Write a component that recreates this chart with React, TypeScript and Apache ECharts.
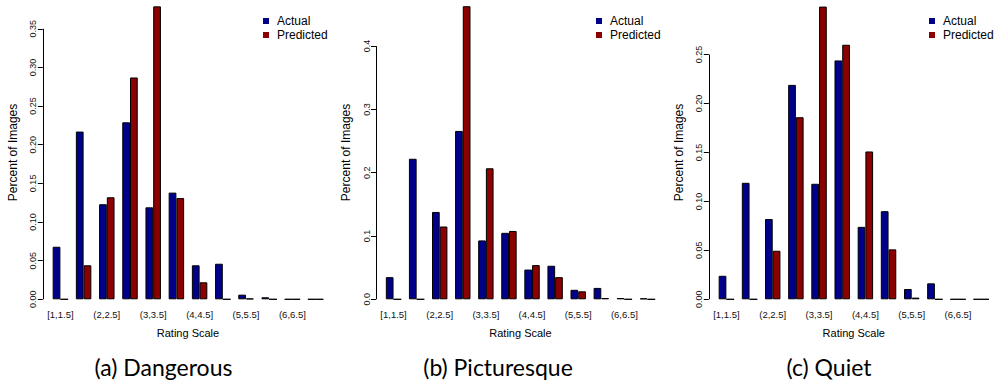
import React, { useEffect, useRef } from "react";
import * as echarts from "echarts";

const categories = ["[1,1.5]", "(1.5,2]", "(2,2.5]", "(2.5,3]", "(3,3.5]", "(3.5,4]", "(4,4.5]", "(4.5,5]", "(5,5.5]", "(5.5,6]", "(6,6.5]", "(6.5,7]"];

const dangerousActual = [0.068, 0.217, 0.123, 0.229, 0.119, 0.138, 0.044, 0.046, 0.006, 0.0026, 0, 0];
const dangerousPredicted = [0, 0.044, 0.132, 0.287, 0.379, 0.131, 0.022, 0, 0.001, 0, 0, 0];
const picturesqueActual = [0.035, 0.222, 0.138, 0.266, 0.093, 0.105, 0.047, 0.053, 0.015, 0.018, 0.002, 0.0015];
const picturesquePredicted = [0, 0, 0.115, 0.463, 0.207, 0.108, 0.054, 0.035, 0.0126, 0.002, 0, 0];
const quietActual = [0.024, 0.119, 0.082, 0.219, 0.118, 0.244, 0.074, 0.09, 0.0105, 0.0163, 0, 0];
const quietPredicted = [0, 0, 0.0496, 0.186, 0.299, 0.26, 0.151, 0.051, 0.0017, 0, 0, 0];

const dangerousTicks = [0, 0.05, 0.1, 0.15, 0.2, 0.25, 0.3, 0.35];
const picturesqueTicks = [0, 0.1, 0.2, 0.3, 0.4];
const quietTicks = [0, 0.05, 0.1, 0.15, 0.2, 0.25];

const seriesNames = ["Actual", "Predicted"];
const captions = ["(a) Dangerous", "(b) Picturesque", "(c) Quiet"];

const ACTUAL_COLOR = "#00008B";
const PREDICTED_COLOR = "#8B0000";
const FONT = "'Liberation Sans', Arial, Helvetica, sans-serif";
const AXIS_OFFSET = 6;
const GRID_TOP = 5.6;
const GRID_HEIGHT = 293.7;

const panels = [
  { left: 48.8, width: 278.4, max: 0.38, ticks: dangerousTicks, digits: 2, actual: dangerousActual, predicted: dangerousPredicted, legendLeft: 263, captionX: 163.5 },
  { left: 382, width: 277, max: 0.464, ticks: picturesqueTicks, digits: 1, actual: picturesqueActual, predicted: picturesquePredicted, legendLeft: 596, captionX: 498 },
  { left: 714.8, width: 278, max: 0.3, ticks: quietTicks, digits: 2, actual: quietActual, predicted: quietPredicted, legendLeft: 929, captionX: 829 },
];

export default function App() {
  const ref = useRef<HTMLDivElement>(null);

  useEffect(() => {
    if (!ref.current) return;
    const chart = echarts.init(ref.current, null, { renderer: "svg" });

    const option: any = {
      animation: false,
      textStyle: { fontFamily: FONT },
      grid: panels.map((p) => ({
        left: p.left,
        top: GRID_TOP,
        width: p.width,
        height: GRID_HEIGHT,
        containLabel: false,
        outerBoundsMode: "none",
      })),
      legend: panels.map((p) => ({
        data: seriesNames,
        orient: "vertical",
        left: p.legendLeft,
        top: 15,
        padding: 0,
        itemWidth: 6,
        itemHeight: 6,
        itemGap: 2,
        icon: "rect",
        selectedMode: false,
        itemStyle: { borderWidth: 0 },
        textStyle: { fontSize: 12, color: "#000", fontFamily: FONT, lineHeight: 12, padding: [0, 0, 0, 3] },
      })),
      xAxis: panels.map((p, i) => ({
        type: "category",
        gridIndex: i,
        data: categories,
        axisLine: { show: false },
        axisTick: { show: false },
        axisLabel: { interval: 1, fontSize: 9.5, margin: 10, color: "#111", fontFamily: FONT },
        name: "Rating Scale",
        nameLocation: "middle",
        nameGap: 28,
        nameTextStyle: { fontSize: 11, color: "#000", fontFamily: FONT },
      })),
      yAxis: panels.map((p, i) => ({
        type: "value",
        gridIndex: i,
        min: 0,
        max: p.max,
        offset: AXIS_OFFSET,
        axisLine: { show: false },
        splitLine: { show: false },
        axisTick: { show: true, length: 5, customValues: p.ticks, lineStyle: { color: "#000", width: 1 } },
        axisLabel: {
          customValues: p.ticks,
          rotate: 90,
          margin: 5,
          fontSize: 9,
          color: "#111",
          fontFamily: FONT,
          formatter: (v: number) => v.toFixed(p.digits),
        },
        name: "Percent of Images",
        nameLocation: "middle",
        nameGap: 24,
        nameTextStyle: { fontSize: 12, color: "#000", fontFamily: FONT },
      })),
      series: panels.flatMap((p, i) => [
        {
          type: "bar",
          name: seriesNames[0],
          xAxisIndex: i,
          yAxisIndex: i,
          data: p.actual,
          barGap: "0%",
          barCategoryGap: "33.3%",
          itemStyle: { color: ACTUAL_COLOR, borderColor: "#000", borderWidth: 1 },
        },
        {
          type: "bar",
          name: seriesNames[1],
          xAxisIndex: i,
          yAxisIndex: i,
          data: p.predicted,
          barGap: "0%",
          barCategoryGap: "33.3%",
          itemStyle: { color: PREDICTED_COLOR, borderColor: "#000", borderWidth: 1 },
        },
      ]),
    };

    chart.setOption(option);

    const graphics: any[] = [];
    panels.forEach((p, i) => {
      const yb = chart.convertToPixel({ yAxisIndex: i } as any, 0) as number;
      const yt = chart.convertToPixel({ yAxisIndex: i } as any, p.ticks[p.ticks.length - 1]) as number;
      const x = Math.round(p.left - AXIS_OFFSET) + 0.5;
      graphics.push({
        type: "line",
        silent: true,
        shape: { x1: x, y1: yb, x2: x, y2: yt },
        style: { stroke: "#000", lineWidth: 1 },
      });
      graphics.push({
        type: "text",
        silent: true,
        x: p.captionX,
        y: 367,
        style: {
          text: captions[i],
          fontSize: 23,
          fontFamily: "Lato, 'Open Sans', sans-serif",
          fill: "#000",
          align: "center",
          verticalAlign: "middle",
          textAlign: "center",
          textVerticalAlign: "middle",
        },
      });
    });
    chart.setOption({ graphic: graphics });

    return () => chart.dispose();
  }, []);

  return (
    <div
      ref={ref}
      style={{ position: "absolute", left: 0, top: 0, width: 1002, height: 385, background: "#fff" }}
    />
  );
}
